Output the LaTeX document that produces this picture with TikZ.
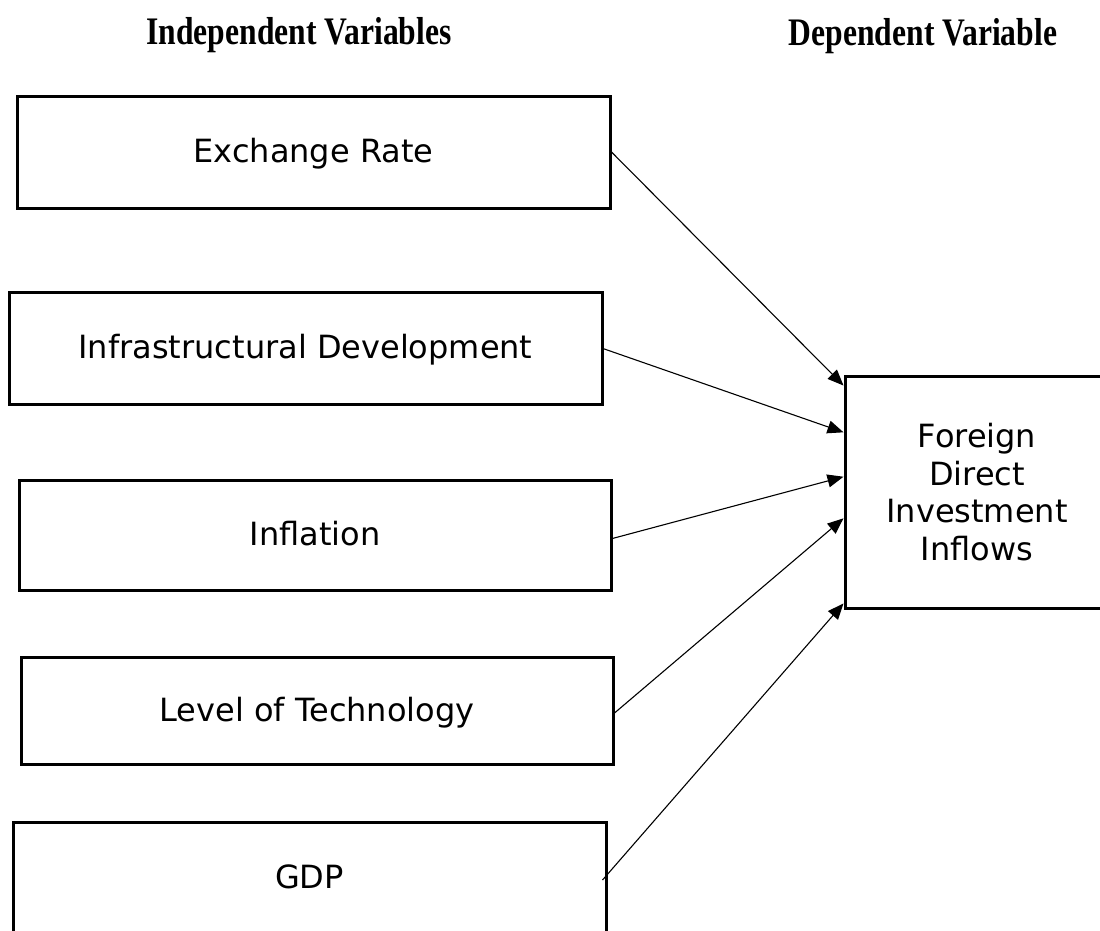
\documentclass[tikz,border=0pt]{standalone}
\usepackage{graphicx}
\usepackage{fontspec}
\setmainfont{DejaVu Sans}
\newfontfamily\titlefont{Liberation Serif}
\usetikzlibrary{arrows.meta,calc}
\begin{document}
\begin{tikzpicture}[x=1pt,y=-1pt,
  varbox/.style={draw,line width=3pt,inner sep=0pt,minimum width=593pt,
    minimum height=112pt,align=center,font=\fontsize{32}{37.7}\selectfont},
  onerow/.style={text height=24pt,text depth=3pt},
  heading/.style={font=\titlefont\bfseries\fontsize{39}{44}\selectfont,
    anchor=base,inner sep=0pt},
  link/.style={line width=1.1pt,-{Triangle[length=16pt,width=13pt]}}]
\useasboundingbox (0,0) rectangle (1100,930);
\clip (0,0) rectangle (1100,930);

% column headings
\node[heading] (indep) at (299,44) {\scalebox{0.81}[1]{Independent Variables}};
\node[heading] (dep) at (923,45) {\scalebox{0.81}[1]{Dependent Variable}};

% independent variables
\node[varbox,onerow] (er)   at (313.5,152) {Exchange Rate};
\node[varbox,onerow] (infr) at (305.5,348) {Infrastructural Development};
\node[varbox,onerow,minimum width=592pt,minimum height=110pt] (infl) at (315,535) {Inflation};
\node[varbox,onerow,minimum width=592pt,minimum height=107pt] (tech) at (317,710.5) {Level of Technology};
\node[varbox,onerow] (gdp)  at (309.5,878) {GDP};

% dependent variable
\node[varbox,minimum width=264pt,minimum height=232pt] (fdi) at (977,492)
  {Foreign\\Direct\\Investment\\Inflows};

% links
\draw[link] (er.east) -- ($(fdi.north west)!0.047!(fdi.south west)$);
\draw[link] ($(infr.east)+(-2,0)$) -- ($(fdi.north west)!0.246!(fdi.south west)$);
\draw[link] ($(infl.east)+(-2,4)$) -- ($(fdi.north west)!0.435!(fdi.south west)$);
\draw[link] ($(tech.east)+(0,2.5)$) -- ($(fdi.north west)!0.612!(fdi.south west)$);
\draw[link] ($(gdp.east)+(-5,2)$) -- ($(fdi.north west)!0.974!(fdi.south west)$);
\end{tikzpicture}
\end{document}
